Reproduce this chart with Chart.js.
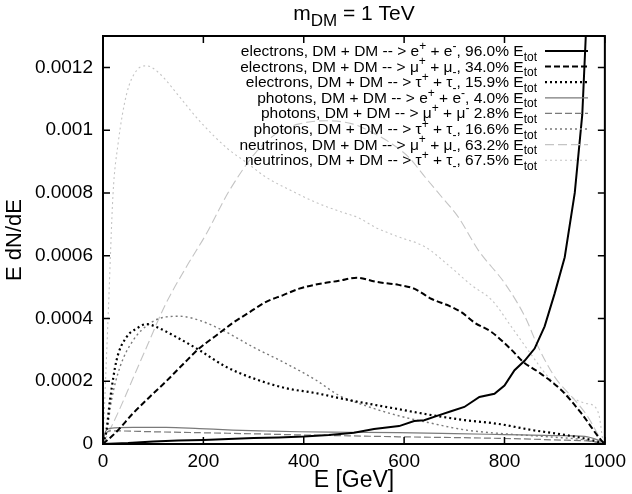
<!DOCTYPE html>
<html><head><meta charset="utf-8">
<script src="https://cdn.jsdelivr.net/npm/chart.js@4.4.1/dist/chart.umd.min.js"></script>
<style>html,body{margin:0;padding:0;background:#fff}#wrap{width:632px;height:494px}</style>
</head><body><div id="wrap"><canvas id="c" width="632" height="494"></canvas></div>
<script>
// ---- tick labels ----
const xTicks = [0, 200, 400, 600, 800, 1000];
const xTickLabels = ['0', '200', '400', '600', '800', '1000'];
const yTicks = [0, 0.0002, 0.0004, 0.0006, 0.0008, 0.001, 0.0012];
const yTickLabels = ['0', '0.0002', '0.0004', '0.0006', '0.0008', '0.001', '0.0012'];

// ---- series (E in GeV, E dN/dE) ----
const E_el_ee = [0, 50, 100, 150, 200, 250, 300, 350, 400, 450, 500, 540, 590, 620, 640, 670, 695, 720, 750, 780, 800, 820, 840, 860, 880, 900, 920, 940, 955, 962, 970];
const el_ee   = [0, 3e-6, 8e-6, 1.1e-5, 1.3e-5, 1.6e-5, 1.9e-5, 2.1e-5, 2.4e-5, 2.9e-5, 3.6e-5, 4.8e-5, 5.7e-5, 7.3e-5, 7.6e-5, 9.2e-5, 1.05e-4, 1.18e-4, 1.5e-4, 1.6e-4, 1.86e-4, 2.35e-4, 2.65e-4, 3.04e-4, 3.75e-4, 4.8e-4, 5.95e-4, 8.0e-4, 1.05e-3, 1.3e-3, 1.55e-3];

const E_el_mm = [0, 27, 60, 93, 126, 160, 192, 225, 258, 292, 325, 360, 391, 430, 470, 506, 543, 589, 620, 655, 690, 714, 741, 774, 814, 837, 867, 913, 953, 992, 1000];
const el_mm   = [0, 3.9e-5, 9.8e-5, 1.5e-4, 2.0e-4, 2.55e-4, 3.05e-4, 3.45e-4, 3.85e-4, 4.2e-4, 4.53e-4, 4.75e-4, 4.95e-4, 5.1e-4, 5.2e-4, 5.3e-4, 5.17e-4, 5.07e-4, 4.95e-4, 4.62e-4, 4.4e-4, 4.2e-4, 3.86e-4, 3.57e-4, 3.0e-4, 2.62e-4, 2.3e-4, 1.72e-4, 9.8e-5, 1.3e-5, 0];

const E_el_tt = [0, 7, 14, 27, 47, 67, 87, 106, 146, 192, 245, 298, 364, 424, 490, 589, 655, 721, 788, 853, 920, 972, 1000];
const el_tt   = [0, 4.5e-5, 1.4e-4, 2.67e-4, 3.41e-4, 3.68e-4, 3.82e-4, 3.73e-4, 3.41e-4, 2.99e-4, 2.46e-4, 2.1e-4, 1.78e-4, 1.62e-4, 1.4e-4, 1.11e-4, 9.2e-5, 7.6e-5, 6.4e-5, 4.5e-5, 2.9e-5, 1.3e-5, 0];

const E_ph_ee = [0, 5, 14, 60, 126, 192, 258, 325, 391, 490, 589, 700, 800, 900, 960, 1000];
const ph_ee   = [0, 4e-5, 5e-5, 5.3e-5, 5.3e-5, 4.9e-5, 4.45e-5, 4.15e-5, 3.9e-5, 3.75e-5, 3.6e-5, 3.3e-5, 3.0e-5, 2.7e-5, 2.4e-5, 5e-6];

const E_ph_mm = [0, 5, 14, 100, 192, 300, 391, 490, 589, 700, 788, 900, 980, 1000];
const ph_mm   = [0, 3e-5, 4.2e-5, 3.9e-5, 3.6e-5, 3.25e-5, 2.9e-5, 2.6e-5, 2.3e-5, 2.05e-5, 1.8e-5, 1.3e-5, 7e-6, 0];

const E_ph_tt = [0, 7, 17, 34, 60, 93, 126, 153, 192, 245, 298, 364, 424, 470, 523, 589, 655, 721, 788, 887, 960, 1000];
const ph_tt   = [0, 3.4e-5, 1.4e-4, 2.46e-4, 3.3e-4, 3.84e-4, 4.05e-4, 4.07e-4, 3.94e-4, 3.57e-4, 3.1e-4, 2.57e-4, 2.04e-4, 1.55e-4, 1.22e-4, 9e-5, 6.6e-5, 4.5e-5, 3.4e-5, 2.3e-5, 1.3e-5, 0];

const E_nu_mm = [0, 30, 60, 90, 123, 166, 206, 252, 305, 351, 391, 444, 497, 536, 576, 609, 642, 675, 708, 748, 801, 841, 867, 900, 946, 966, 993, 1000];
const nu_mm   = [0, 1.0e-4, 2.1e-4, 3.2e-4, 4.4e-4, 5.64e-4, 6.7e-4, 8.08e-4, 9.3e-4, 9.95e-4, 1.02e-3, 1.03e-3, 1.02e-3, 9.93e-4, 9.56e-4, 9.14e-4, 8.5e-4, 7.87e-4, 7.23e-4, 6.17e-4, 5.11e-4, 4.05e-4, 3.1e-4, 2.14e-4, 1.29e-4, 8.7e-5, 1.3e-5, 0];

const E_nu_tt = [0, 11, 20, 30, 47, 67, 87, 113, 153, 192, 249, 285, 325, 378, 424, 470, 510, 543, 589, 642, 688, 735, 775, 814, 847, 887, 933, 960, 980, 989, 996, 1000];
const nu_tt   = [0, 4.37e-4, 7.97e-4, 9.56e-4, 1.115e-3, 1.19e-3, 1.205e-3, 1.18e-3, 1.105e-3, 1.03e-3, 9.4e-4, 8.98e-4, 8.5e-4, 8.05e-4, 7.7e-4, 7.42e-4, 7.2e-4, 6.9e-4, 6.6e-4, 6.28e-4, 5.7e-4, 5.05e-4, 4.58e-4, 3.73e-4, 2.99e-4, 2.14e-4, 1.5e-4, 1.3e-4, 1.19e-4, 8.7e-5, 1.3e-5, 0];

// ---- legend labels (segments: [text, mode]) ----
const legendLabels = [
  [['electrons, DM + DM -- > e',''],['+','sup'],[' + e',''],['-','sup'],[', 96.0% E',''],['tot','sub']],
  [['electrons, DM + DM -- > \u03bc',''],['+','sup'],[' + \u03bc',''],['-','sub'],[', 34.0% E',''],['tot','sub']],
  [['electrons, DM + DM -- > \u03c4',''],['+','sup'],[' + \u03c4',''],['-','sub'],[', 15.9% E',''],['tot','sub']],
  [['photons, DM + DM -- > e',''],['+','sup'],[' + e',''],['-','sup'],[', 4.0% E',''],['tot','sub']],
  [['photons, DM + DM -- > \u03bc',''],['+','sup'],[' + \u03bc',''],['-','sup'],[' 2.8% E',''],['tot','sub']],
  [['photons, DM + DM -- > \u03c4',''],['+','sup'],[' + \u03c4',''],['-','sub'],[', 16.6% E',''],['tot','sub']],
  [['neutrinos, DM + DM -- > \u03bc',''],['+','sup'],[' + \u03bc',''],['-','sub'],[', 63.2% E',''],['tot','sub']],
  [['neutrinos, DM + DM -- > \u03c4',''],['+','sup'],[' + \u03c4',''],['-','sub'],[', 67.5% E',''],['tot','sub']]
];

const FONT = "'Liberation Sans', Arial, Helvetica, sans-serif";
Chart.defaults.font.family = FONT;
Chart.defaults.color = '#000';

function pts(xs, ys) { return xs.map((x, i) => ({x: x, y: ys[i]})); }

function ds(label, xs, ys, color, width, dash, smooth) {
  return {
    label: label, data: pts(xs, ys), borderColor: color, borderWidth: width,
    borderDash: dash, pointRadius: 0, fill: false,
    tension: 0, cubicInterpolationMode: smooth ? 'monotone' : 'default'
  };
}

function drawRich(ctx, segs, rightX, baseY, size) {
  const small = Math.round(size * 0.8);
  let total = 0;
  const widths = segs.map(s => {
    ctx.font = (s[1] ? small : size) + 'px ' + FONT;
    const w = ctx.measureText(s[0]).width;
    total += w; return w;
  });
  let x = rightX - total;
  segs.forEach((s, i) => {
    ctx.font = (s[1] ? small : size) + 'px ' + FONT;
    let y = baseY;
    if (s[1] === 'sup') y -= size * 0.4;
    if (s[1] === 'sub') y += size * 0.3;
    ctx.fillText(s[0], x, y);
    x += widths[i];
  });
  return total;
}

const framePlugin = {
  id: 'frame',
  afterDatasetsDraw(chart) {
    const ctx = chart.ctx, a = chart.chartArea;
    const xs = chart.scales.x, ys = chart.scales.y;
    ctx.save();
    ctx.strokeStyle = '#000';
    ctx.lineWidth = 1.5;
    ctx.setLineDash([]);
    ctx.beginPath();
    xTicks.forEach(v => {
      const px = xs.getPixelForValue(v);
      ctx.moveTo(px, a.bottom); ctx.lineTo(px, a.bottom - 7);
      ctx.moveTo(px, a.top); ctx.lineTo(px, a.top + 7);
    });
    yTicks.forEach(v => {
      const py = ys.getPixelForValue(v);
      ctx.moveTo(a.left, py); ctx.lineTo(a.left + 7, py);
      ctx.moveTo(a.right, py); ctx.lineTo(a.right - 7, py);
    });
    ctx.stroke();
    ctx.lineWidth = 2;
    ctx.strokeRect(a.left, a.top, a.right - a.left, a.bottom - a.top);

    // legend
    ctx.fillStyle = '#000';
    ctx.textBaseline = 'alphabetic';
    ctx.textAlign = 'left';
    chart.data.datasets.forEach((d, i) => {
      const cy = 51 + i * 15.6;
      drawRich(ctx, legendLabels[i], 537, cy + 5, 15.5);
      ctx.strokeStyle = d.borderColor;
      ctx.lineWidth = d.borderWidth;
      ctx.setLineDash(d.borderDash || []);
      ctx.beginPath(); ctx.moveTo(545, cy); ctx.lineTo(588, cy); ctx.stroke();
    });
    ctx.setLineDash([]);

    // title
    ctx.fillStyle = '#000';
    const tsegs = [['m',''],['DM','sub'],[' = 1 TeV','']];
    let tw = 0;
    tsegs.forEach(s => { ctx.font = (s[1] ? Math.round(21 * 0.8) : 21) + 'px ' + FONT; tw += ctx.measureText(s[0]).width; });
    drawRich(ctx, tsegs, (a.left + a.right) / 2 + tw / 2, 20, 21);

    // axis titles
    ctx.font = '23px ' + FONT;
    ctx.textAlign = 'center';
    ctx.textBaseline = 'middle';
    ctx.fillText('E [GeV]', (a.left + a.right) / 2, 481);
    ctx.save();
    ctx.translate(15, (a.top + a.bottom) / 2);
    ctx.rotate(-Math.PI / 2);
    ctx.font = '22px ' + FONT;
    ctx.fillText('E dN/dE', 0, 0);
    ctx.restore();
    ctx.restore();
  }
};

new Chart(document.getElementById('c'), {
  type: 'line',
  data: {
    datasets: [
      ds('electrons ee', E_el_ee, el_ee, '#000000', 2, [], false),
      ds('electrons mumu', E_el_mm, el_mm, '#000000', 2, [6, 3], true),
      ds('electrons tautau', E_el_tt, el_tt, '#000000', 2.2, [2, 3], true),
      ds('photons ee', E_ph_ee, ph_ee, '#7a7a7a', 1.2, [], true),
      ds('photons mumu', E_ph_mm, ph_mm, '#7a7a7a', 1.2, [7, 3], true),
      ds('photons tautau', E_ph_tt, ph_tt, '#7a7a7a', 1.4, [2, 3], true),
      ds('neutrinos mumu', E_nu_mm, nu_mm, '#c4c4c4', 1.1, [9, 4], true),
      ds('neutrinos tautau', E_nu_tt, nu_tt, '#c4c4c4', 1.1, [2, 3], true)
    ]
  },
  options: {
    responsive: false,
    animation: false,
    devicePixelRatio: 1,
    layout: { padding: { left: 0, right: 25, top: 36, bottom: 0 } },
    plugins: { legend: { display: false }, title: { display: false }, tooltip: { enabled: false } },
    scales: {
      x: {
        type: 'linear', min: 0, max: 1000,
        grid: { display: false, drawTicks: false },
        border: { display: false },
        afterBuildTicks: s => { s.ticks = xTicks.map(v => ({ value: v })); },
        afterFit: s => { s.height = 50; },
        ticks: { autoSkip: false, maxRotation: 0, padding: 6, font: { size: 19 }, color: '#000',
                 callback: (v, i) => xTickLabels[i] }
      },
      y: {
        type: 'linear', min: 0, max: 0.0013,
        grid: { display: false, drawTicks: false },
        border: { display: false },
        afterBuildTicks: s => { s.ticks = yTicks.map(v => ({ value: v })); },
        afterFit: s => { s.width = 103; },
        ticks: { autoSkip: false, padding: 10, font: { size: 19 }, color: '#000',
                 callback: (v, i) => yTickLabels[i] }
      }
    }
  },
  plugins: [framePlugin]
});
</script>
</body></html>
